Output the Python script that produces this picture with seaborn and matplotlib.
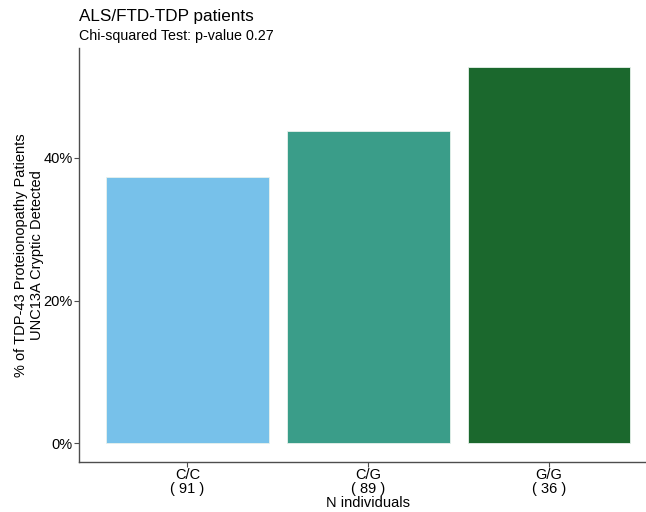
import matplotlib
matplotlib.use("Agg")
import matplotlib.pyplot as plt
from matplotlib.ticker import FuncFormatter
import seaborn as sns
import pandas as pd

genotypes = ["C/C", "C/G", "G/G"]
n_individuals = [91, 89, 36]
n_detected = [34, 39, 19]
percent_detected = [100 * d / n for d, n in zip(n_detected, n_individuals)]
bar_colors = ["#77C1EA", "#3A9D89", "#1B682D"]

df = pd.DataFrame({
    "label": [f"{g}\n( {n} )" for g, n in zip(genotypes, n_individuals)],
    "pct": percent_detected,
})

sns.set_theme(style="white")
plt.rcParams["font.family"] = ["Liberation Sans", "DejaVu Sans"]

fig = plt.figure(figsize=(6.46, 5.12), dpi=100)
ax = fig.add_axes([79 / 646, 50 / 512, (657.6 - 79) / 646, (462 - 48) / 512])

sns.barplot(data=df, x="label", y="pct", hue="label", palette=bar_colors,
            legend=False, width=0.9, ax=ax, saturation=1,
            edgecolor="#e8f2ec", linewidth=0.6)

ymax = max(percent_detected)
pad = 0.05 * ymax
ax.set_ylim(-pad, ymax + pad)
ax.set_xlim(-0.6, 2.6)
ax.set_yticks([0, 20, 40])
ax.yaxis.set_major_formatter(FuncFormatter(lambda v, _: f"{v:.0f}%"))

for side in ["top", "right"]:
    ax.spines[side].set_visible(False)
for side in ["left", "bottom"]:
    ax.spines[side].set_color("#4d4d4d")
    ax.spines[side].set_linewidth(1.0)

ax.tick_params(axis="both", which="major", length=3.5, width=0.8, color="#4d4d4d",
               labelsize=10.5, labelcolor="black", pad=1, left=True, bottom=True)
for lbl in ax.get_xticklabels():
    lbl.set_linespacing(0.95)

ax.set_xlabel("N individuals", fontsize=10.5, labelpad=0, color="black")
ax.set_ylabel("% of TDP-43 Proteionopathy Patients\nUNC13A Cryptic Detected",
              fontsize=10.5, labelpad=0, color="black", linespacing=1.1)

fig.text(79 / 646, 1 - 16 / 512, "ALS/FTD-TDP patients", fontsize=12.3,
         ha="left", va="center", color="black")
fig.text(79 / 646, 1 - 36 / 512, "Chi-squared Test: p-value 0.27", fontsize=10.3,
         ha="left", va="center", color="black")

fig.savefig("out.png", dpi=100)
